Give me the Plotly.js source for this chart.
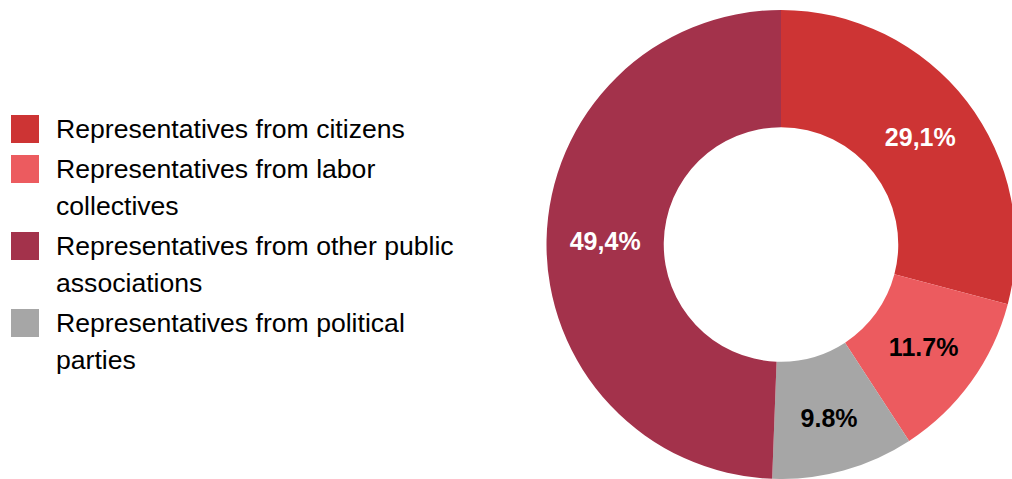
<!DOCTYPE html>
<html>
<head>
<meta charset="utf-8">
<script src="https://cdn.plot.ly/plotly-3.0.1.min.js"></script>
<style>
  html, body { margin: 0; padding: 0; overflow: hidden; background: #fff; }
  #chart { width: 1022px; height: 479px; }
</style>
</head>
<body>
<div id="chart"></div>
<script>
// ---- data (slice order, clockwise from 12 o'clock) ----
const categories = [
  'Representatives from citizens',
  'Representatives from labor collectives',
  'Representatives from political parties',
  'Representatives from other public associations'
];
const values = [29.1, 11.7, 9.8, 49.4];
const valueLabels = ['29,1%', '11.7%', '9.8%', '49,4%'];
const sliceColors = ['#CD3434', '#EC5B5F', '#A6A6A6', '#A3324B'];
const labelColors = ['#ffffff', '#000000', '#000000', '#ffffff'];
// legend order and wrapped legend text
const legendOrder = [0, 1, 3, 2];
const legendLines = [
  ['Representatives from citizens'],
  ['Representatives from labor', 'collectives'],
  ['Representatives from political', 'parties'],
  ['Representatives from other public', 'associations']
];

// ---- layout ----
const W = 1022, H = 479;
const FONT = '"Liberation Sans", Arial, Helvetica, sans-serif';

const shapes = [];
const annotations = [];
let itemTop = 115;
const SQ = 28, LINE = 37;
legendOrder.forEach(idx => {
  const lines = legendLines[idx];
  shapes.push({
    type: 'rect', xref: 'paper', yref: 'paper',
    x0: 11 / W, x1: (11 + SQ) / W,
    y0: 1 - (itemTop + SQ) / H, y1: 1 - itemTop / H,
    fillcolor: sliceColors[idx], line: { width: 0 }
  });
  lines.forEach((t, j) => {
    const cy = itemTop + SQ / 2 + LINE * j;
    annotations.push({
      xref: 'paper', yref: 'paper', x: 54 / W, y: 1 - cy / H,
      xanchor: 'left', yanchor: 'middle', showarrow: false,
      text: t, font: { family: FONT, size: 26.6, color: '#000' }
    });
  });
  itemTop += 40 + LINE * (lines.length - 1);
});

const trace = {
  type: 'pie',
  labels: categories,
  values: values,
  text: valueLabels,
  textinfo: 'text',
  textposition: 'inside',
  insidetextorientation: 'horizontal',
  textfont: { family: FONT, size: 25, color: labelColors, weight: 'bold' },
  marker: { colors: sliceColors, line: { width: 0 } },
  hole: 0.5,
  sort: false,
  direction: 'clockwise',
  rotation: 0,
  showlegend: false,
  hoverinfo: 'none',
  domain: { x: [541 / W, 1021 / W], y: [0, 469 / H] }
};

const layout = {
  width: W, height: H,
  margin: { l: 0, r: 0, t: 0, b: 0 },
  paper_bgcolor: '#ffffff',
  plot_bgcolor: '#ffffff',
  showlegend: false,
  shapes: shapes,
  annotations: annotations,
  font: { family: FONT }
};

Plotly.newPlot('chart', [trace], layout, { displayModeBar: false, staticPlot: true });
</script>
</body>
</html>
